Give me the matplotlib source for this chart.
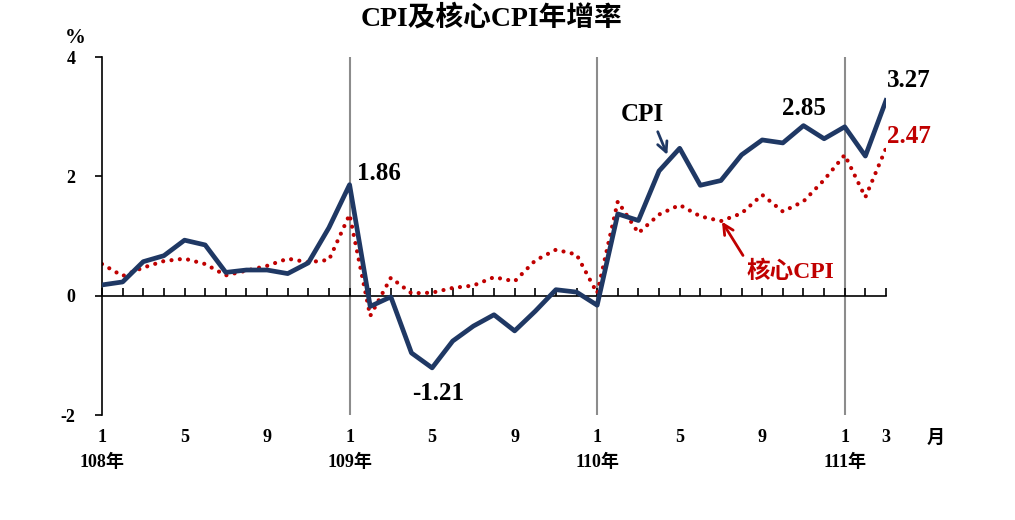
import matplotlib
matplotlib.use("Agg")
import matplotlib.pyplot as plt
import matplotlib.transforms as mtransforms

plt.rcParams['font.family'] = ['Liberation Serif', 'Noto Sans CJK TC']
plt.rcParams['font.weight'] = 'bold'

# CPI / core CPI yoy growth, 108/1 .. 111/3
cpi = [0.18, 0.23, 0.57, 0.67, 0.93, 0.85, 0.39, 0.43, 0.43, 0.37, 0.55, 1.14,
       1.86, -0.18, -0.02, -0.96, -1.21, -0.76, -0.51, -0.32, -0.59, -0.26, 0.10, 0.06,
       -0.16, 1.37, 1.26, 2.09, 2.47, 1.85, 1.93, 2.36, 2.61, 2.56, 2.85, 2.63,
       2.83, 2.34, 3.27]
core = [0.53, 0.33, 0.47, 0.58, 0.62, 0.53, 0.34, 0.42, 0.50, 0.62, 0.56, 0.60,
        1.36, -0.34, 0.30, 0.04, 0.05, 0.13, 0.17, 0.31, 0.24, 0.59, 0.77, 0.69,
        0.04, 1.58, 1.05, 1.36, 1.52, 1.33, 1.25, 1.38, 1.69, 1.41, 1.58, 1.94,
        2.36, 1.65, 2.47]
x = list(range(len(cpi)))

month_pos = [0, 4, 8, 12, 16, 20, 24, 28, 32, 36, 38]
month_lab = ['1', '5', '9', '1', '5', '9', '1', '5', '9', '1', '3']
year_pos = [0, 12, 24, 36]
year_lab = ['108年', '109年', '110年', '111年']

navy = '#1F3864'
red = '#C00000'

fig = plt.figure(figsize=(10.15, 5.2), dpi=100)
ax = fig.add_axes([102/1015, 1-415/520, (886-102)/1015, (415-57)/520])

for yp in [12, 24, 36]:
    ax.plot([yp, yp], [-2, 4], color='#8c8c8c', lw=1.5, zorder=1)

ax.plot(x, core, color=red, lw=3, linestyle=(0, (0.01, 2.0)),
        dash_capstyle='round', zorder=2)
ax.plot(x, cpi, color=navy, lw=3.4, zorder=3)

ax.set_xlim(0, 38)
ax.set_ylim(-2, 4)
ax.set_yticks([-2, 0, 2, 4])
ax.set_yticklabels(['-2', '0', '2', '4'])
ax.tick_params(axis='y', direction='out', length=5, width=1.2, labelsize=13, pad=14)
for s in ['top', 'right']:
    ax.spines[s].set_visible(False)
ax.spines['left'].set_linewidth(1.2)
ax.spines['bottom'].set_position(('data', 0))
ax.spines['bottom'].set_linewidth(1.2)
ax.set_xticks(x)
ax.tick_params(axis='x', direction='in', length=6, width=1.2, labelbottom=False)

trans = mtransforms.blended_transform_factory(ax.transData, fig.transFigure)
for p, l in zip(month_pos, month_lab):
    ax.text(p, 1-438/520, l, transform=trans, ha='center', va='center', fontsize=13)
ax.text(40.4, 1-438/520, '月', transform=trans, ha='center', va='center', fontsize=13)
for p, l in zip(year_pos, year_lab):
    ax.text(p, 1-462/520, l, transform=trans, ha='center', va='center', fontsize=13)

fig.text(75/1015, 1-38/520, '%', ha='center', va='center', fontsize=15)
fig.text(492/1015, 1-18/520, 'CPI及核心CPI年增率', ha='center', va='center', fontsize=20)

ax.text(12.35, 1.86, '1.86', ha='left', va='bottom', fontsize=18)
ax.text(16.3, -1.45, '-1.21', ha='center', va='top', fontsize=18)
ax.text(34.0, 2.95, '2.85', ha='center', va='bottom', fontsize=18)
ax.text(39.1, 3.42, '3.27', ha='center', va='bottom', fontsize=18)
ax.text(39.1, 2.47, '2.47', ha='center', va='bottom', fontsize=18, color=red)

ax.annotate('CPI', xy=(27.4, 2.36), xytext=(26.2, 3.03), ha='center', va='center',
            fontsize=18,
            arrowprops=dict(arrowstyle='->', color=navy, lw=2, mutation_scale=18,
                            relpos=(0.8, 0), shrinkA=2, shrinkB=0))
ax.annotate('核心CPI', xy=(30.05, 1.24), xytext=(33.35, 0.40), ha='center', va='center',
            fontsize=17, color=red,
            arrowprops=dict(arrowstyle='->', color=red, lw=2, mutation_scale=18,
                            relpos=(0.0, 1.0), shrinkA=2, shrinkB=0))

fig.savefig('out.png', dpi=100)
